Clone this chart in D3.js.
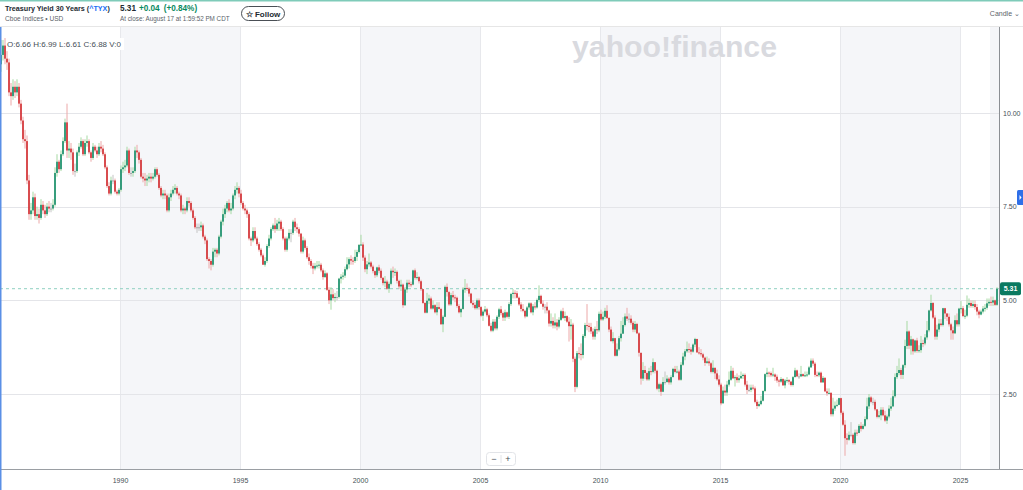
<!DOCTYPE html>
<html>
<head>
<meta charset="utf-8">
<script src="https://cdn.jsdelivr.net/npm/d3@7"></script>
<style>
html, body { margin: 0; padding: 0; background: #fff; overflow: hidden; }
svg { display: block; font-family: "Liberation Sans", Arial, sans-serif; }
</style>
</head>
<body>
<svg id="chart" width="1023" height="490"></svg>
<script>
// monthly candles of ^TYX, one row per year (Jan..Dec)
const startYear = 1985;
const firstOpen = 11.30;

const closes = [
  [11.55, 11.80, 11.45, 11.35, 10.55, 10.45, 10.70, 10.55, 10.70, 10.25, 9.80, 9.30],
  [9.25, 8.20, 7.30, 7.40, 7.75, 7.25, 7.30, 7.20, 7.55, 7.40, 7.30, 7.50],
  [7.45, 7.45, 7.55, 8.40, 8.70, 8.50, 8.90, 9.25, 9.75, 9.00, 9.05, 8.95],
  [8.45, 8.45, 8.95, 9.10, 9.25, 8.90, 9.20, 9.25, 8.95, 8.80, 9.10, 9.00],
  [8.90, 9.10, 9.05, 8.90, 8.55, 8.05, 7.85, 8.20, 8.20, 7.90, 7.85, 7.95],
  [8.50, 8.55, 8.60, 9.00, 8.40, 8.40, 8.45, 9.00, 8.95, 8.75, 8.30, 8.25],
  [8.20, 8.25, 8.30, 8.25, 8.30, 8.50, 8.35, 8.00, 7.80, 7.85, 7.80, 7.40],
  [7.75, 7.85, 7.95, 8.00, 7.85, 7.80, 7.40, 7.45, 7.40, 7.65, 7.60, 7.40],
  [7.20, 6.95, 6.95, 6.95, 7.00, 6.70, 6.60, 6.10, 6.05, 5.95, 6.30, 6.35],
  [6.25, 6.70, 7.10, 7.30, 7.45, 7.60, 7.40, 7.45, 7.80, 7.95, 8.00, 7.85],
  [7.60, 7.45, 7.40, 7.30, 6.65, 6.60, 6.85, 6.65, 6.50, 6.35, 6.20, 5.95],
  [6.05, 6.45, 6.65, 6.90, 7.00, 6.90, 7.05, 7.10, 6.90, 6.65, 6.35, 6.65],
  [6.80, 6.80, 7.10, 6.95, 6.90, 6.78, 6.30, 6.60, 6.40, 6.15, 6.05, 5.92],
  [5.85, 5.92, 5.93, 5.95, 5.80, 5.62, 5.72, 5.28, 5.00, 5.16, 5.06, 5.09],
  [5.09, 5.58, 5.63, 5.66, 5.83, 5.96, 6.10, 6.06, 6.05, 6.16, 6.29, 6.48],
  [6.49, 6.14, 5.83, 5.96, 6.01, 5.90, 5.78, 5.67, 5.88, 5.79, 5.60, 5.46],
  [5.50, 5.31, 5.44, 5.79, 5.75, 5.76, 5.52, 5.37, 5.42, 4.87, 5.29, 5.47],
  [5.43, 5.42, 5.80, 5.60, 5.62, 5.51, 5.30, 4.93, 4.67, 4.99, 5.05, 4.78],
  [4.87, 4.68, 4.82, 4.77, 4.36, 4.56, 5.36, 5.22, 4.89, 5.14, 5.08, 5.07],
  [4.85, 4.68, 4.77, 5.29, 5.33, 5.31, 5.18, 4.93, 4.88, 4.79, 5.00, 4.82],
  [4.59, 4.70, 4.76, 4.60, 4.32, 4.19, 4.43, 4.25, 4.56, 4.76, 4.66, 4.54],
  [4.68, 4.56, 4.90, 5.17, 5.20, 5.19, 5.07, 4.89, 4.77, 4.72, 4.57, 4.81],
  [4.92, 4.68, 4.84, 4.81, 5.01, 5.12, 4.91, 4.83, 4.83, 4.73, 4.38, 4.45],
  [4.33, 4.41, 4.30, 4.48, 4.71, 4.53, 4.58, 4.43, 4.31, 4.35, 3.44, 2.69],
  [3.59, 3.57, 3.54, 4.05, 4.34, 4.32, 4.29, 4.17, 4.03, 4.23, 4.20, 4.64],
  [4.49, 4.56, 4.72, 4.53, 4.22, 3.91, 3.99, 3.52, 3.69, 3.99, 4.11, 4.34],
  [4.57, 4.51, 4.51, 4.40, 4.22, 4.37, 4.12, 3.60, 2.91, 3.14, 3.06, 2.89],
  [3.11, 3.09, 3.35, 3.12, 2.64, 2.76, 2.56, 2.82, 2.82, 2.91, 2.81, 2.95],
  [3.17, 3.09, 3.10, 2.88, 3.28, 3.50, 3.64, 3.70, 3.69, 3.63, 3.82, 3.97],
  [3.61, 3.59, 3.56, 3.47, 3.33, 3.37, 3.32, 3.09, 3.20, 3.05, 2.89, 2.75],
  [2.25, 2.59, 2.54, 2.75, 2.88, 3.12, 2.92, 2.95, 2.87, 2.92, 2.98, 3.01],
  [2.75, 2.61, 2.61, 2.67, 2.65, 2.29, 2.18, 2.23, 2.32, 2.58, 3.03, 3.07],
  [3.06, 3.00, 3.02, 2.96, 2.86, 2.83, 2.90, 2.73, 2.86, 2.87, 2.83, 2.74],
  [2.95, 3.13, 2.97, 2.97, 3.03, 2.98, 3.00, 3.02, 3.21, 3.39, 3.31, 3.01],
  [3.00, 3.07, 2.81, 2.93, 2.57, 2.52, 2.53, 1.96, 2.11, 2.19, 2.21, 2.39],
  [2.00, 1.68, 1.32, 1.28, 1.41, 1.41, 1.19, 1.47, 1.46, 1.65, 1.57, 1.65],
  [1.83, 2.17, 2.41, 2.29, 2.29, 2.09, 1.89, 1.93, 2.08, 1.93, 1.79, 1.90],
  [2.11, 2.17, 2.44, 2.95, 3.06, 3.14, 3.01, 3.27, 3.78, 4.17, 3.79, 3.96],
  [3.64, 3.93, 3.65, 3.67, 3.86, 3.85, 4.01, 4.20, 4.73, 4.93, 4.54, 4.03],
  [4.22, 4.38, 4.34, 4.79, 4.65, 4.56, 4.36, 4.20, 4.12, 4.47, 4.36, 4.78],
  [4.79, 4.58, 4.59, 4.88, 4.93, 4.85, 4.90, 4.82, 4.70, 4.62, 4.70, 4.78],
  [4.80, 4.92, 4.96, 4.94, 5.00, 4.88, 5.31]
];

const highs = [
  [11.95, 11.95, 12.00, 11.65, 11.45, 10.80, 10.90, 10.85, 10.90, 10.80, 10.35, 9.90],
  [9.55, 9.40, 8.35, 7.60, 7.90, 7.85, 7.50, 7.45, 7.70, 7.65, 7.55, 7.60],
  [7.65, 7.60, 7.70, 8.55, 8.90, 8.75, 9.00, 9.35, 9.85, 10.25, 9.25, 9.20],
  [9.05, 8.65, 9.00, 9.20, 9.35, 9.30, 9.30, 9.40, 9.30, 9.00, 9.20, 9.15],
  [9.10, 9.20, 9.25, 9.15, 8.95, 8.60, 8.15, 8.30, 8.35, 8.25, 7.95, 8.00],
  [8.60, 8.70, 8.75, 9.10, 9.05, 8.55, 8.55, 9.10, 9.15, 9.00, 8.80, 8.40],
  [8.40, 8.35, 8.40, 8.40, 8.40, 8.55, 8.55, 8.40, 8.05, 7.95, 7.95, 7.85],
  [7.85, 7.95, 8.05, 8.10, 8.05, 7.90, 7.85, 7.55, 7.50, 7.75, 7.75, 7.65],
  [7.45, 7.25, 7.05, 7.05, 7.10, 7.05, 6.75, 6.65, 6.15, 6.10, 6.40, 6.40],
  [6.40, 6.75, 7.15, 7.45, 7.55, 7.65, 7.70, 7.60, 7.85, 8.05, 8.15, 8.05],
  [7.95, 7.65, 7.55, 7.45, 7.35, 6.70, 6.95, 6.95, 6.70, 6.55, 6.40, 6.25],
  [6.15, 6.50, 6.75, 6.95, 7.05, 7.20, 7.15, 7.20, 7.15, 6.95, 6.70, 6.70],
  [6.90, 6.90, 7.15, 7.20, 7.05, 6.95, 6.80, 6.70, 6.65, 6.45, 6.25, 6.10],
  [6.00, 6.00, 6.05, 6.05, 6.00, 5.85, 5.80, 5.75, 5.35, 5.35, 5.30, 5.20],
  [5.25, 5.60, 5.70, 5.75, 5.90, 6.15, 6.15, 6.20, 6.15, 6.35, 6.35, 6.50],
  [6.75, 6.55, 6.20, 6.05, 6.25, 6.05, 5.95, 5.80, 5.90, 5.95, 5.85, 5.62],
  [5.65, 5.55, 5.50, 5.85, 5.90, 5.85, 5.80, 5.55, 5.55, 5.45, 5.35, 5.55],
  [5.55, 5.50, 5.82, 5.85, 5.75, 5.65, 5.55, 5.30, 4.95, 5.20, 5.15, 5.10],
  [5.00, 4.90, 4.95, 4.95, 4.80, 4.60, 5.40, 5.45, 5.25, 5.20, 5.25, 5.15],
  [5.10, 4.90, 4.80, 5.35, 5.57, 5.45, 5.35, 5.20, 5.00, 4.95, 5.05, 5.05],
  [4.85, 4.75, 4.85, 4.80, 4.65, 4.40, 4.50, 4.50, 4.60, 4.80, 4.85, 4.70],
  [4.75, 4.70, 4.95, 5.20, 5.30, 5.27, 5.25, 5.10, 4.95, 4.90, 4.75, 4.85],
  [4.95, 4.95, 4.90, 4.95, 5.05, 5.40, 5.15, 5.00, 4.90, 4.95, 4.75, 4.65],
  [4.55, 4.65, 4.50, 4.55, 4.75, 4.80, 4.70, 4.60, 4.55, 4.50, 4.40, 3.50],
  [3.65, 3.75, 3.85, 4.10, 4.40, 4.90, 4.40, 4.40, 4.25, 4.30, 4.45, 4.70],
  [4.75, 4.70, 4.80, 4.87, 4.55, 4.30, 4.15, 4.00, 3.85, 4.05, 4.45, 4.55],
  [4.65, 4.80, 4.65, 4.60, 4.45, 4.45, 4.40, 4.15, 3.60, 3.35, 3.25, 3.10],
  [3.20, 3.25, 3.45, 3.35, 3.15, 2.80, 2.80, 2.95, 3.10, 3.00, 2.95, 3.00],
  [3.20, 3.25, 3.25, 3.15, 3.35, 3.60, 3.70, 3.90, 3.85, 3.75, 3.85, 4.00],
  [3.97, 3.75, 3.70, 3.60, 3.50, 3.50, 3.45, 3.35, 3.40, 3.20, 3.15, 3.00],
  [2.80, 2.70, 2.75, 2.85, 3.10, 3.25, 3.20, 3.00, 3.05, 3.00, 3.10, 3.05],
  [3.05, 2.85, 2.75, 2.75, 2.75, 2.70, 2.35, 2.30, 2.45, 2.60, 3.05, 3.20],
  [3.10, 3.10, 3.20, 3.05, 3.02, 2.90, 2.95, 2.92, 2.90, 2.95, 2.90, 2.85],
  [2.98, 3.20, 3.15, 3.05, 3.25, 3.05, 3.10, 3.10, 3.25, 3.45, 3.45, 3.35],
  [3.10, 3.10, 3.10, 2.98, 2.95, 2.65, 2.65, 2.55, 2.40, 2.30, 2.35, 2.40],
  [2.40, 2.05, 1.80, 1.45, 1.50, 1.75, 1.45, 1.55, 1.55, 1.70, 1.75, 1.70],
  [1.90, 2.40, 2.50, 2.45, 2.40, 2.35, 2.10, 2.05, 2.15, 2.15, 2.05, 1.95],
  [2.20, 2.40, 2.60, 3.05, 3.25, 3.45, 3.20, 3.30, 3.95, 4.45, 4.20, 4.05],
  [3.98, 3.95, 4.00, 3.80, 4.05, 3.95, 4.10, 4.45, 4.75, 5.15, 4.95, 4.60],
  [4.35, 4.50, 4.50, 4.80, 4.80, 4.65, 4.65, 4.40, 4.30, 4.60, 4.65, 4.80],
  [4.98, 4.85, 4.75, 5.13, 5.05, 5.00, 5.00, 5.00, 4.90, 4.75, 4.75, 4.85],
  [4.90, 5.05, 5.05, 5.10, 5.10, 5.02, 5.35]
];

const lows = [
  [11.10, 11.40, 11.30, 11.15, 10.45, 10.20, 10.35, 10.40, 10.45, 10.15, 9.70, 9.20],
  [9.05, 8.10, 7.15, 7.15, 7.30, 7.15, 7.15, 7.05, 7.15, 7.30, 7.20, 7.25],
  [7.35, 7.35, 7.40, 7.50, 8.30, 8.40, 8.45, 8.85, 9.20, 8.80, 8.80, 8.75],
  [8.35, 8.30, 8.40, 8.85, 9.05, 8.85, 8.85, 9.10, 8.90, 8.70, 8.75, 8.95],
  [8.80, 8.85, 8.95, 8.85, 8.50, 8.00, 7.80, 7.80, 8.10, 7.85, 7.80, 7.80],
  [7.90, 8.40, 8.45, 8.55, 8.35, 8.30, 8.30, 8.40, 8.80, 8.65, 8.25, 8.15],
  [8.05, 8.05, 8.15, 8.15, 8.20, 8.25, 8.30, 7.95, 7.75, 7.70, 7.70, 7.35],
  [7.35, 7.65, 7.80, 7.85, 7.80, 7.70, 7.35, 7.30, 7.30, 7.35, 7.50, 7.35],
  [7.15, 6.90, 6.80, 6.85, 6.85, 6.65, 6.50, 6.05, 5.85, 5.80, 5.90, 6.15],
  [6.15, 6.20, 6.65, 7.00, 7.20, 7.35, 7.35, 7.30, 7.40, 7.70, 7.85, 7.75],
  [7.55, 7.40, 7.30, 7.20, 6.60, 6.45, 6.55, 6.60, 6.45, 6.30, 6.15, 5.95],
  [5.90, 6.00, 6.40, 6.60, 6.85, 6.80, 6.85, 6.85, 6.85, 6.60, 6.30, 6.30],
  [6.60, 6.55, 6.75, 6.85, 6.80, 6.70, 6.25, 6.25, 6.35, 6.10, 5.95, 5.85],
  [5.70, 5.80, 5.85, 5.85, 5.75, 5.55, 5.60, 5.25, 4.90, 4.75, 5.00, 4.95],
  [5.00, 5.05, 5.45, 5.55, 5.60, 5.80, 5.85, 5.95, 5.95, 6.00, 6.05, 6.25],
  [6.45, 6.05, 5.75, 5.70, 5.90, 5.85, 5.72, 5.60, 5.62, 5.72, 5.55, 5.40],
  [5.35, 5.28, 5.20, 5.40, 5.60, 5.65, 5.45, 5.30, 5.25, 4.80, 4.85, 5.20],
  [5.35, 5.35, 5.40, 5.55, 5.55, 5.45, 5.25, 4.90, 4.65, 4.65, 4.90, 4.75],
  [4.75, 4.65, 4.60, 4.75, 4.35, 4.15, 4.55, 5.10, 4.85, 4.85, 5.00, 4.95],
  [4.80, 4.65, 4.55, 4.75, 5.20, 5.25, 5.10, 4.90, 4.80, 4.75, 4.75, 4.75],
  [4.55, 4.45, 4.65, 4.55, 4.30, 4.15, 4.15, 4.20, 4.20, 4.50, 4.60, 4.45],
  [4.45, 4.52, 4.50, 4.85, 5.05, 5.05, 5.05, 4.85, 4.70, 4.68, 4.52, 4.55],
  [4.75, 4.65, 4.60, 4.75, 4.78, 4.95, 4.90, 4.75, 4.65, 4.65, 4.30, 4.30],
  [4.25, 4.25, 4.20, 4.25, 4.45, 4.50, 4.45, 4.40, 3.90, 3.95, 3.35, 2.55],
  [2.65, 3.45, 3.40, 3.45, 4.00, 4.20, 4.15, 4.10, 3.95, 3.95, 4.10, 4.15],
  [4.45, 4.45, 4.50, 4.50, 4.15, 3.90, 3.85, 3.50, 3.50, 3.65, 3.90, 4.10],
  [4.30, 4.45, 4.40, 4.35, 4.15, 4.15, 4.10, 3.50, 2.75, 2.85, 2.90, 2.85],
  [2.85, 3.00, 3.05, 3.05, 2.60, 2.55, 2.45, 2.55, 2.75, 2.80, 2.75, 2.75],
  [2.95, 3.05, 3.05, 2.85, 2.85, 3.25, 3.40, 3.60, 3.60, 3.55, 3.60, 3.75],
  [3.60, 3.55, 3.50, 3.40, 3.25, 3.30, 3.25, 3.05, 3.05, 2.90, 2.85, 2.70],
  [2.20, 2.25, 2.45, 2.45, 2.70, 2.85, 2.90, 2.70, 2.80, 2.80, 2.90, 2.90],
  [2.70, 2.50, 2.55, 2.55, 2.60, 2.25, 2.10, 2.15, 2.20, 2.30, 2.55, 2.95],
  [2.95, 2.95, 2.95, 2.85, 2.80, 2.70, 2.80, 2.72, 2.65, 2.80, 2.75, 2.70],
  [2.70, 2.95, 2.95, 2.90, 2.95, 2.95, 2.95, 2.95, 3.00, 3.20, 3.25, 2.95],
  [2.95, 2.95, 2.80, 2.80, 2.55, 2.45, 2.50, 1.90, 1.90, 2.05, 2.15, 2.20],
  [1.95, 1.65, 0.85, 1.15, 1.25, 1.35, 1.15, 1.15, 1.38, 1.45, 1.50, 1.55],
  [1.62, 1.80, 2.10, 2.25, 2.20, 2.05, 1.85, 1.85, 1.80, 1.90, 1.75, 1.70],
  [1.85, 2.05, 2.15, 2.40, 2.90, 3.00, 2.90, 2.90, 3.20, 3.70, 3.70, 3.55],
  [3.55, 3.60, 3.60, 3.60, 3.60, 3.75, 3.80, 3.95, 4.15, 4.70, 4.50, 3.95],
  [3.95, 4.15, 4.30, 4.30, 4.50, 4.45, 4.30, 3.95, 3.95, 4.10, 4.30, 4.30],
  [4.65, 4.55, 4.50, 4.55, 4.80, 4.80, 4.80, 4.75, 4.60, 4.52, 4.60, 4.65],
  [4.70, 4.75, 4.85, 4.85, 4.85, 4.85, 4.85]
];

const yTicks = [2.5, 5, 7.5, 10];
const xTickYears = [1990, 1995, 2000, 2005, 2010, 2015, 2020, 2025];
const shadedSpans = [[1990, 1995], [2000, 2005], [2010, 2015], [2020, 2025]];
const lastPrice = 5.31;

// layout
const W = 1023, H = 490;
const plotLeft = 0, plotRight = 999, plotTop = 27, plotBottom = 469;

const svg = d3.select('#chart');

const x = d3.scaleLinear().domain([1985, 2026.625]).range([plotLeft, plotRight]);
const y = d3.scaleLinear().domain([2.5, 10]).range([394, 113]);

const flatC = closes.flat(), flatH = highs.flat(), flatL = lows.flat();
const candles = flatC.map((c, i) => ({
    t: startYear + (i + 0.5) / 12,
    o: i === 0 ? firstOpen : flatC[i - 1],
    h: flatH[i],
    l: flatL[i],
    c: c
}));

// header
svg.append('rect').attr('x', 0).attr('y', 0).attr('width', W).attr('height', 1.5).attr('fill', '#7fcbb9');
svg.append('line').attr('x1', 0).attr('x2', W).attr('y1', 26.5).attr('y2', 26.5).attr('stroke', '#e6e6e6');

const title = svg.append('text').attr('x', 5).attr('y', 11).attr('font-size', 7.2).attr('font-weight', 'bold')
    .attr('fill', '#232a31');
title.append('tspan').text('Treasury Yield 30 Years (');
title.append('tspan').attr('fill', '#1a6ef5').text('^TYX');
title.append('tspan').text(')');

svg.append('text').attr('x', 5).attr('y', 21).attr('font-size', 6.6).attr('fill', '#5b636a')
    .text('Cboe Indices \u2022 USD');

const price = svg.append('text').attr('x', 120).attr('y', 11).attr('font-size', 8.2).attr('font-weight', 'bold');
price.append('tspan').attr('fill', '#232a31').text('5.31');
price.append('tspan').attr('fill', '#0a8a5f').attr('dx', 3).text('+0.04');
price.append('tspan').attr('fill', '#0a8a5f').attr('dx', 4).text('(+0.84%)');
svg.append('text').attr('x', 120).attr('y', 21).attr('font-size', 6.3).attr('fill', '#5b636a')
    .text('At close: August 17 at 1:59:52 PM CDT');

svg.append('rect').attr('x', 241.5).attr('y', 6.5).attr('width', 43).attr('height', 14).attr('rx', 7)
    .attr('fill', '#fff').attr('stroke', '#4a4f55');
svg.append('text').attr('x', 263).attr('y', 16.5).attr('text-anchor', 'middle').attr('font-size', 8)
    .attr('font-weight', 'bold').attr('fill', '#232a31').text('\u2606 Follow');

svg.append('text').attr('x', 1020).attr('y', 16).attr('text-anchor', 'end').attr('font-size', 7)
    .attr('fill', '#5b636a').text('Candle \u2304');

// plot background
const plot = svg.append('g');
shadedSpans.forEach(s => {
    plot.append('rect').attr('x', x(s[0])).attr('y', plotTop).attr('width', x(s[1]) - x(s[0]))
        .attr('height', plotBottom - plotTop).attr('fill', '#f5f6f9');
});
plot.append('rect').attr('x', 990).attr('y', plotTop).attr('width', plotRight - 990)
    .attr('height', plotBottom - plotTop).attr('fill', '#f5f6f9');

xTickYears.forEach(yr => {
    plot.append('line').attr('x1', Math.round(x(yr)) + 0.5).attr('x2', Math.round(x(yr)) + 0.5)
        .attr('y1', plotTop).attr('y2', plotBottom).attr('stroke', '#e7e8ec');
});
yTicks.forEach(v => {
    plot.append('line').attr('x1', plotLeft).attr('x2', plotRight)
        .attr('y1', Math.round(y(v)) + 0.5).attr('y2', Math.round(y(v)) + 0.5).attr('stroke', '#e4e5e9');
});

// watermark
svg.append('text').attr('x', 572).attr('y', 57).attr('font-size', 29).attr('font-weight', 'bold')
    .attr('fill', '#d9dadf').attr('textLength', 205).attr('lengthAdjust', 'spacingAndGlyphs')
    .text('yahoo!finance');

// last price dashed line
plot.append('line').attr('x1', plotLeft).attr('x2', plotRight)
    .attr('y1', y(lastPrice)).attr('y2', y(lastPrice))
    .attr('stroke', '#8fd0c0').attr('stroke-dasharray', '3,3');

// candles
const upBody = '#128a69', downBody = '#d22b2f', flatBody = '#9a9a9a';
const upWick = '#a6d9a3', downWick = '#eca8a8';
const colorOf = d => d.c > d.o ? 'up' : (d.c < d.o ? 'down' : 'flat');

const cg = svg.append('g');
cg.selectAll('line.wick').data(candles).enter().append('line')
    .attr('class', 'wick')
    .attr('x1', d => x(d.t)).attr('x2', d => x(d.t))
    .attr('y1', d => y(d.h)).attr('y2', d => y(d.l))
    .attr('stroke', d => colorOf(d) === 'up' ? upWick : (colorOf(d) === 'down' ? downWick : '#c4c4c4'))
    .attr('stroke-width', 1);

cg.selectAll('rect.body').data(candles).enter().append('rect')
    .attr('class', 'body')
    .attr('x', d => x(d.t) - 0.8)
    .attr('width', 1.6)
    .attr('y', d => y(Math.max(d.o, d.c)))
    .attr('height', d => Math.max(1, Math.abs(y(d.o) - y(d.c))))
    .attr('fill', d => colorOf(d) === 'up' ? upBody : (colorOf(d) === 'down' ? downBody : flatBody));

// OHLC readout
svg.append('rect').attr('x', 6).attr('y', 38).attr('width', 118).attr('height', 12).attr('fill', '#fff');
svg.append('text').attr('x', 7).attr('y', 47).attr('font-size', 8).attr('fill', '#464e56')
    .text('O:6.66  H:6.99  L:6.61  C:6.88  V:0');

// axes
svg.append('line').attr('x1', 0).attr('x2', W).attr('y1', plotBottom + 0.5).attr('y2', plotBottom + 0.5)
    .attr('stroke', '#9a9ea3');
svg.append('line').attr('x1', plotRight + 0.5).attr('x2', plotRight + 0.5).attr('y1', plotTop).attr('y2', plotBottom)
    .attr('stroke', '#8b8f94');
svg.append('rect').attr('x', 0).attr('y', plotTop).attr('width', 1.5).attr('height', H - plotTop).attr('fill', '#5a8fe6');

const xAxis = d3.axisBottom(x).tickValues(xTickYears).tickFormat(d3.format('d')).tickSize(0).tickPadding(9);
svg.append('g').attr('transform', `translate(0,${plotBottom})`).call(xAxis)
    .call(g => g.select('.domain').remove())
    .selectAll('text').attr('font-size', 7).attr('fill', '#464e56')
    .attr('font-family', '"Liberation Sans", Arial, sans-serif');

const yAxis = d3.axisRight(y).tickValues(yTicks).tickFormat(d3.format('.2f')).tickSize(0).tickPadding(4);
svg.append('g').attr('transform', `translate(${plotRight},0)`).call(yAxis)
    .call(g => g.select('.domain').remove())
    .selectAll('text').attr('font-size', 7).attr('fill', '#464e56')
    .attr('font-family', '"Liberation Sans", Arial, sans-serif');

// last price tag
svg.append('rect').attr('x', plotRight + 1).attr('y', y(lastPrice) - 6.5).attr('width', 21).attr('height', 13)
    .attr('rx', 2).attr('fill', '#0b7a61');
svg.append('text').attr('x', plotRight + 11.5).attr('y', y(lastPrice) + 2.5).attr('text-anchor', 'middle')
    .attr('font-size', 7).attr('font-weight', 'bold').attr('fill', '#fff').text(lastPrice.toFixed(2));

// side tab
svg.append('rect').attr('x', 1017).attr('y', 190).attr('width', 8).attr('height', 15).attr('rx', 1.5).attr('fill', '#2f6fe8');
svg.append('path').attr('d', 'M1019.5,195 L1021.5,197.5 L1019.5,200 Z').attr('fill', '#fff');

// zoom control
svg.append('rect').attr('x', 486.5).attr('y', 452.5).attr('width', 29).attr('height', 13).attr('rx', 3)
    .attr('fill', '#fff').attr('stroke', '#e2e4e8');
svg.append('line').attr('x1', 501).attr('x2', 501).attr('y1', 455).attr('y2', 463).attr('stroke', '#e2e4e8');
svg.append('text').attr('x', 494).attr('y', 462).attr('text-anchor', 'middle').attr('font-size', 9)
    .attr('fill', '#464e56').text('\u2212');
svg.append('text').attr('x', 508).attr('y', 462).attr('text-anchor', 'middle').attr('font-size', 9)
    .attr('fill', '#464e56').text('+');
</script>
</body>
</html>
